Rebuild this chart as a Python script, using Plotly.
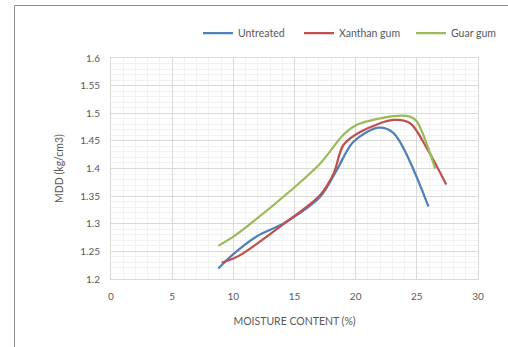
import plotly.graph_objects as go

# ---- data ----
untreated_x = [8.77, 10.0, 11.9, 14.2, 17.1, 18.45, 19.8, 21.85, 23.1, 25.95]
untreated_y = [1.219, 1.245, 1.277, 1.302, 1.349, 1.397, 1.448, 1.474, 1.464, 1.331]

xanthan_x = [9.05, 10.0, 10.7, 14.2, 17.1, 18.2, 19.0, 20.4, 23.1, 24.45, 25.9, 27.4]
xanthan_y = [1.2295, 1.237, 1.245, 1.301, 1.352, 1.391, 1.4425, 1.4666, 1.4878, 1.482, 1.4335, 1.371]

guar_x = [8.78, 10.0, 11.1, 15.05, 17.1, 19.0, 20.1, 23.1, 24.45, 25.0, 26.5]
guar_y = [1.260, 1.2766, 1.2947, 1.367, 1.409, 1.461, 1.479, 1.495, 1.494, 1.485, 1.400]

series_names = ["Untreated", "Xanthan gum", "Guar gum"]
series_colors = ["#4F81BD", "#C0504D", "#9BBB59"]

x_ticks = [0, 5, 10, 15, 20, 25, 30]
y_ticks = [1.2, 1.25, 1.3, 1.35, 1.4, 1.45, 1.5, 1.55, 1.6]
y_tick_labels = ["1.2", "1.25", "1.3", "1.35", "1.4", "1.45", "1.5", "1.55", "1.6"]

x_title = "MOISTURE CONTENT (%)"
y_title = "MDD (kg/cm3)"

FONT = "Lato"
TXT = "#595959"

fig = go.Figure()
data = [(untreated_x, untreated_y), (xanthan_x, xanthan_y), (guar_x, guar_y)]
legend_ids = ["legend", "legend2", "legend3"]
for (xs, ys), name, col, lg in zip(data, series_names, series_colors, legend_ids):
    fig.add_trace(go.Scatter(
        x=xs, y=ys, name=name, mode="lines",
        line=dict(color=col, width=2.25, shape="spline", smoothing=0.9),
        legend=lg,
    ))

W, H = 508, 347
L, R, T, B = 111, 30, 58, 68
pw, ph = W - L - R, H - T - B

def px_to_paper_x(px):
    return (px - L) / pw

def py_to_paper_y(py):
    return (H - B - py) / ph

legend_common = dict(
    orientation="h", yanchor="middle", xanchor="left",
    font=dict(family=FONT, size=10.5, color=TXT),
    bgcolor="rgba(0,0,0,0)", borderwidth=0, itemwidth=30,
)
legend_px = [198, 299, 411]
fig.update_layout(
    width=W, height=H,
    margin=dict(l=L, r=R, t=T, b=B, autoexpand=False),
    paper_bgcolor="white", plot_bgcolor="white",
    legend=dict(x=px_to_paper_x(legend_px[0]), y=py_to_paper_y(33), **legend_common),
    legend2=dict(x=px_to_paper_x(legend_px[1]), y=py_to_paper_y(33), **legend_common),
    legend3=dict(x=px_to_paper_x(legend_px[2]), y=py_to_paper_y(33), **legend_common),
    showlegend=True,
)

fig.update_xaxes(
    range=[0, 30], tickvals=x_ticks, ticks="", ticklabelstandoff=8,
    tickfont=dict(family=FONT, size=10, color=TXT),
    showgrid=True, gridcolor="#D9D9D9", gridwidth=1,
    minor=dict(dtick=1, showgrid=True, gridcolor="#F2F2F2", gridwidth=1),
    showline=True, linecolor="#D9D9D9", linewidth=1, mirror=True, zeroline=False,
    title=dict(text=x_title, font=dict(family=FONT, size=10.5, color=TXT), standoff=16),
    automargin=False,
)
fig.update_yaxes(
    range=[1.2, 1.6], tickvals=y_ticks, ticktext=y_tick_labels, ticks="", ticklabelstandoff=8,
    tickfont=dict(family=FONT, size=10, color=TXT),
    showgrid=True, gridcolor="#D9D9D9", gridwidth=1,
    minor=dict(dtick=0.01, showgrid=True, gridcolor="#F2F2F2", gridwidth=1),
    showline=True, linecolor="#D9D9D9", linewidth=1, mirror=True, zeroline=False,
    title=dict(text=y_title, font=dict(family=FONT, size=10.5, color=TXT), standoff=14),
    automargin=False,
)

# outer frame (left and top edges visible in the reference)
fx, fy = px_to_paper_x(14.5), py_to_paper_y(5.5)
fig.add_shape(type="line", xref="paper", yref="paper",
              x0=fx, x1=fx, y0=fy, y1=py_to_paper_y(H + 2),
              line=dict(color="#8C8C8C", width=1))
fig.add_shape(type="line", xref="paper", yref="paper",
              x0=fx, x1=px_to_paper_x(W + 2), y0=fy, y1=fy,
              line=dict(color="#8C8C8C", width=1))

fig.write_html("out.html",
               config={"displayModeBar": False},
               post_script="document.body.style.margin='0';document.body.style.overflow='hidden';")
